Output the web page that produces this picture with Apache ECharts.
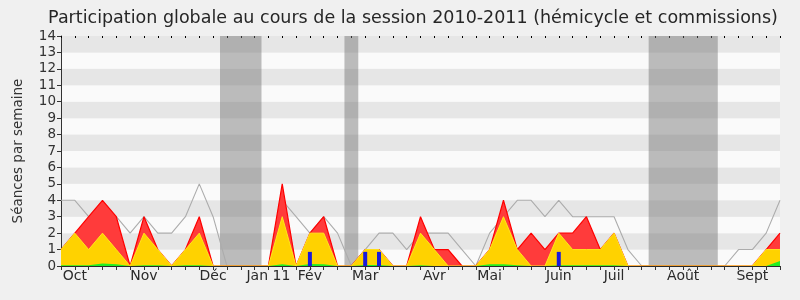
<!DOCTYPE html>
<html>
<head>
<meta charset="utf-8">
<script src="https://cdn.jsdelivr.net/npm/echarts@6/dist/echarts.min.js"></script>
<style>html,body{margin:0;padding:0;background:#f0f0f0;}#c{width:800px;height:300px;}</style>
</head>
<body>
<div id="c"></div>
<script>
// Week index 0..52 (session Oct 2010 - Sept 2011)
const weeks = [0,1,2,3,4,5,6,7,8,9,10,11,12,13,14,15,16,17,18,19,20,21,22,23,24,25,26,27,28,29,30,31,32,33,34,35,36,37,38,39,40,41,42,43,44,45,46,47,48,49,50,51,52];
// median of all deputies (gray line)
const medianValues = [4,4,3,3,3,2,3,2,2,3,5,3,0,0,0,0,4,3,2,3,2,0,1,2,2,1,2,2,2,1,0,2,3,4,4,3,4,3,3,3,3,1,0,0,0,0,0,0,0,1,1,2,4];
// total participation (red)
const totalValues = [1,2,3,4,3,0,3,1,0,1,3,0,0,0,0,0,5,0,2,3,0,0,1,1,0,0,3,1,1,0,0,1,4,1,2,1,2,2,3,1,2,0,0,0,0,0,0,0,0,0,0,1,2];
// hémicycle (yellow)
const hemicycleValues = [1,2,1,2,1,0,2,1,0,1,2,0,0,0,0,0,3,0,2,2,0,0,1,1,0,0,2,1,0,0,0,1,3,1,0,0,2,1,1,1,2,0,0,0,0,0,0,0,0,0,0,1,1];
// small green series
const greenValues = [0.05,0.05,0.05,0.15,0.1,0,0.05,0.05,0,0.05,0.05,0,0,0,0,0,0.1,0,0.12,0.1,0,0,0.06,0.06,0,0,0.05,0,0,0,0,0.1,0.1,0.05,0,0,0.05,0.05,0.05,0.05,0.05,0,0,0,0,0,0,0,0,0,0,0,0.3];
// blue bars
const barWeeks = [18,22,23,36];
const barValues = [0.86,0.86,0.86,0.86];
// month labels
const monthWeeks = [1,6,11,15,18,22,27,31,36,40,45,50];
const monthNames = ['Oct','Nov','Déc','Jan 11','Fév','Mar','Avr','Mai','Juin','Juil','Août','Sept'];
// holidays (gray bands)
const holidayStart = [11.5,20.5,42.5];
const holidayEnd = [14.5,21.5,47.5];

const pairs = arr => weeks.map((w,i)=>[w,arr[i]]);
const font = 'DejaVu Sans';

const chart = echarts.init(document.getElementById('c'), null, {renderer:'canvas'});
chart.setOption({
  animation:false,
  backgroundColor:'#f0f0f0',
  title:{text:'Participation globale au cours de la session 2010-2011 (hémicycle et commissions)',
    left:408, top:4, textAlign:'center',
    textStyle:{fontFamily:font,fontSize:17.5,fontWeight:'normal',color:'#262626'}},
  grid:{left:61,right:20,top:36,bottom:34},
  xAxis:[{
    type:'value',min:0,max:52,interval:1,z:10,
    axisLine:{show:true,lineStyle:{color:'#2a2a2a',width:1}},
    axisTick:{show:true,length:4,lineStyle:{color:'#333'}},
    splitLine:{show:false},
    axisLabel:{fontFamily:font,fontSize:14,color:'#2a2a2a',margin:3,showMinLabel:true,showMaxLabel:true,
      formatter:v=>{const k=monthWeeks.indexOf(Math.round(v));return k>=0?monthNames[k]:'';}}
  },{
    type:'value',min:0,max:52,interval:1,position:'top',
    axisLine:{show:false},axisTick:{show:true,inside:true,length:2,lineStyle:{color:'#000'}},
    axisLabel:{show:false},splitLine:{show:false}
  }],
  yAxis:{
    type:'value',min:0,max:14,interval:1,
    name:'Séances par semaine',nameLocation:'middle',nameGap:36,
    nameTextStyle:{fontFamily:font,fontSize:13.5,color:'#333'},
    axisLine:{show:true,lineStyle:{color:'#333'}},
    axisTick:{show:true,length:4,lineStyle:{color:'#333'}},
    axisLabel:{fontFamily:font,fontSize:13.5,color:'#333',margin:5},
    splitLine:{show:false},
    splitArea:{show:true,areaStyle:{color:['#fafafa','#e6e6e6']}}
  },
  series:[
    {type:'line',name:'median',data:pairs(medianValues),symbol:'none',z:2,
      lineStyle:{color:'#acacac',width:1.1},
      markArea:{silent:true,itemStyle:{color:'rgba(110,110,110,0.45)'},
        data:holidayStart.map((s,i)=>[{xAxis:s},{xAxis:holidayEnd[i]}])}},
    {type:'line',name:'total',data:pairs(totalValues),symbol:'none',z:3,
      lineStyle:{color:'#ff0000',width:1.2},areaStyle:{color:'#ff3b3b',opacity:1}},
    {type:'line',name:'hemicycle',data:pairs(hemicycleValues),symbol:'none',z:4,
      lineStyle:{color:'#ffe81a',width:1},areaStyle:{color:'#ffd200',opacity:1}},
    {type:'line',name:'green',data:pairs(greenValues),symbol:'none',z:5,
      lineStyle:{width:0,opacity:0},areaStyle:{color:'#22ee22',opacity:1}},
    {type:'bar',name:'questions',data:barWeeks.map((w,i)=>[w,barValues[i]]),barWidth:4,z:6,
      itemStyle:{color:'#1a1adc'}}
  ]
});
</script>
</body>
</html>
